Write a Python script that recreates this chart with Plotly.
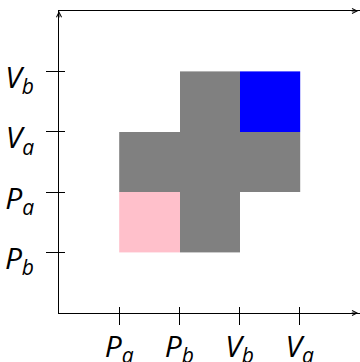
import plotly.graph_objects as go

# Data
x_ticks = [1, 2, 3, 4]
x_labels = ["<i>P<sub>a</sub></i>", "<i>P<sub>b</sub></i>", "<i>V<sub>b</sub></i>", "<i>V<sub>a</sub></i>"]
y_ticks = [1, 2, 3, 4]
y_labels = ["<i>P<sub>b</sub></i>", "<i>P<sub>a</sub></i>", "<i>V<sub>a</sub></i>", "<i>V<sub>b</sub></i>"]

cell_x = [1.5, 2.5, 3.5]
cell_y = [1.5, 2.5, 3.5]
# 0 = pink, 1 = gray, 2 = blue, None = empty
cell_z = [
    [0, 1, None],
    [1, 1, 1],
    [None, 1, 2],
]

colorscale = [[0, "#ffc0cb"], [0.25, "#ffc0cb"], [0.25, "#808080"],
              [0.75, "#808080"], [0.75, "#0000ff"], [1, "#0000ff"]]

FONT = "Open Sans"
X_END = 4.97
Y_END = 5.0

fig = go.Figure()
fig.add_trace(go.Heatmap(x=cell_x, y=cell_y, z=cell_z, colorscale=colorscale,
                         zmin=0, zmax=2, showscale=False, hoverinfo="skip",
                         xgap=0, ygap=0))
fig.add_trace(go.Scatter(x=[0], y=[0], xaxis="x2", yaxis="y2", showlegend=False,
                         mode="markers", marker=dict(opacity=0), hoverinfo="skip"))

axis_common = dict(range=[0, 5], showgrid=False, zeroline=False,
                   tickcolor="black", tickwidth=1, fixedrange=True, automargin=False,
                   linecolor="black", linewidth=1)

fig.update_layout(
    width=360, height=362,
    margin=dict(l=59, r=0, t=11, b=49),
    paper_bgcolor="white", plot_bgcolor="white",
    font=dict(family=FONT, size=30, color="black"),
    showlegend=False,
    xaxis=dict(**axis_common, tickvals=x_ticks, ticktext=x_labels, showline=True,
               mirror=True, ticks="outside", ticklen=11, ticklabelstandoff=-4),
    yaxis=dict(**axis_common, tickvals=y_ticks, ticktext=y_labels, showline=True,
               ticks="outside", ticklen=12, ticklabelstandoff=6, ticklabelshift=6),
    xaxis2=dict(**axis_common, overlaying="x", matches="x", anchor="y2", side="bottom",
                showline=False, tickvals=x_ticks, ticks="inside", ticklen=6,
                showticklabels=False),
    yaxis2=dict(**axis_common, overlaying="y", matches="y", anchor="x2", side="left",
                showline=False, tickvals=y_ticks, ticks="inside", ticklen=6,
                showticklabels=False),
)

# arrowheads at the ends of the axis lines and the top line
heads = [(0, Y_END, 0, 8), (X_END, 0, -8, 0), (X_END, Y_END, -8, 0)]
for hx, hy, dx, dy in heads:
    fig.add_annotation(x=hx, y=hy, ax=dx, ay=dy, xref="x", yref="y",
                       text="", showarrow=True, arrowhead=5, arrowsize=1,
                       arrowwidth=1, arrowcolor="black", standoff=0)

fig.write_html("out.html", post_script="document.body.style.margin='0';",
               config={"displayModeBar": False})
